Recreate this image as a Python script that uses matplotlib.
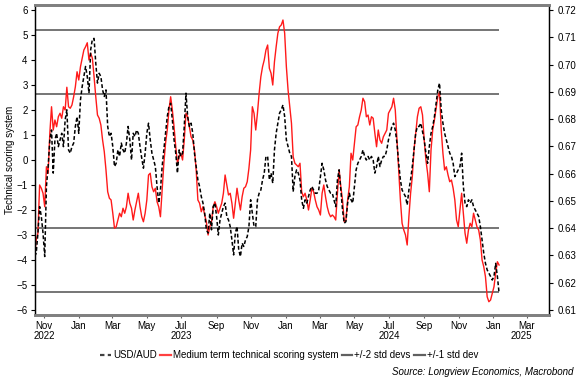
import matplotlib
matplotlib.use('Agg')
import matplotlib.pyplot as plt
import matplotlib.dates as mdates
import matplotlib.transforms as mtransforms
from matplotlib.lines import Line2D
import pandas as pd

plt.rcParams['font.family'] = ['Liberation Sans', 'DejaVu Sans']
plt.rcParams['font.size'] = 7

###############################################
# data (one value every 3 days from mid Oct 2022)
start = '2022-10-15'

score = [
    -3.87, -3.2, -2.93, -1.0, -1.13, -1.33, -1.87, -0.27, -0.53, 1.07, 2.13, 1.2, 1.6, 1.33, 1.73, 1.87, 1.67,
    2.13, 2.0, 2.91, 2.13, 2.07, 2.2, 2.53, 2.93, 3.53, 3.2, 3.73, 4.07, 4.4, 4.53, 4.69, 4.0, 4.27, 4.07,
    3.33, 2.53, 1.8, 1.67, 1.4, 0.8, 0.33, -0.4, -1.27, -1.53, -1.6, -2.13, -2.73, -2.67, -2.4, -2.13, -2.27,
    -1.93, -2.13, -1.87, -1.33, -1.73, -1.93, -2.4, -2.0, -1.67, -1.33, -1.87, -2.27, -2.47, -2.13, -1.6, -0.6,
    # 2023
    -0.53, -1.07, -1.27, -1.13, -1.67, -1.87, -2.27, -1.2, -0.13, 0.67, 1.2, 2.0, 2.53, 2.0, 1.33, 0.53, -0.13,
    0.13, 0.27, 0.0, 0.8, 1.87, 1.73, 1.33, 0.93, 0.8, 0.4, -0.4, -1.6, -1.73, -2.07, -1.87, -2.2, -2.47, -3.0,
    -2.67, -2.47, -1.87, -1.67, -1.87, -2.13, -1.93, -1.73, -1.33, -0.6, -1.0, -1.4, -1.33, -1.73, -2.33, -1.73,
    -1.13, -1.6, -2.0, -1.47, -1.13, -1.07, -0.87, -0.33, 0.4, 2.13, 1.87, 1.2, 1.87, 2.67, 3.33, 3.73, 4.0,
    4.4, 4.6, 3.67, 3.47, 3.0, 3.93, 4.53, 5.07, 5.33, 5.4, 5.6, 5.07, 3.73, 2.8, 2.13, 1.47, 0.13, -0.13,
    # 2024
    -0.2, -0.27, -0.13, -1.27, -1.47, -1.33, -1.6, -2.0, -1.6, -1.13, -1.27, -1.6, -1.87, -2.0, -2.2, -1.33,
    -1.0, -1.47, -1.87, -2.13, -2.27, -2.2, -2.27, -2.4, -1.33, -0.4, -1.07, -1.6, -2.47, -2.4, -1.6, -1.07,
    0.27, 0.0, 0.67, 1.33, 1.4, 1.73, 2.0, 2.47, 2.33, 1.73, 1.8, 1.4, 1.73, 1.67, 1.07, 0.53, 1.2, 0.8,
    0.67, 0.93, 1.07, 1.2, 1.87, 2.0, 2.13, 2.47, 2.0, 0.8, -0.4, -1.6, -2.53, -2.8, -3.0, -3.4, -2.27, -1.33,
    -0.67, 0.4, 1.07, 1.73, 2.07, 2.13, 1.8, 0.8, 0.0, -0.53, -1.27, 0.4, 1.2, 1.6, 2.07, 2.53, 2.73, 1.2,
    0.27, -0.4, -0.27, -0.6, -0.87, -0.8, -1.13, -1.6, -2.4, -2.67, -2.0, -1.33, -2.13, -2.93, -3.33, -2.8,
    -2.53, -2.67, -2.13, -2.4, -2.67, -2.8, -3.2, -4.0, -4.27, -4.67, -5.47, -5.67, -5.6, -5.33, -5.07, -4.53,
    -4.07, -4.2,
]

usdaud = [
    0.6296, 0.6308, 0.6382, 0.6479, 0.6443, 0.6382, 0.6296, 0.6553, 0.6626, 0.6724, 0.6760, 0.6602, 0.6724,
    0.6748, 0.6699, 0.6724, 0.6748, 0.6699, 0.6797, 0.6834, 0.6687, 0.6675, 0.6699, 0.6712, 0.6773, 0.6809,
    0.6748, 0.6870, 0.6919, 0.6956, 0.6993, 0.6956, 0.6895, 0.7054, 0.7093, 0.7096, 0.7005, 0.6932, 0.6968,
    0.6956, 0.6907, 0.6883, 0.6907, 0.6773, 0.6736, 0.6748, 0.6699, 0.6626, 0.6638, 0.6687, 0.6663, 0.6712,
    0.6687, 0.6675, 0.6712, 0.6773, 0.6724, 0.6650, 0.6748, 0.6736, 0.6760, 0.6748, 0.6699, 0.6657, 0.6620,
    0.6675, 0.6748, 0.6785,
    0.6724, 0.6675, 0.6650, 0.6626, 0.6553, 0.6492, 0.6540, 0.6626, 0.6687, 0.6748, 0.6809, 0.6846, 0.6858,
    0.6797, 0.6724, 0.6675, 0.6602, 0.6687, 0.6663, 0.6675, 0.6773, 0.6895, 0.6809, 0.6773, 0.6785, 0.6748,
    0.6675, 0.6626, 0.6577, 0.6553, 0.6516, 0.6492, 0.6455, 0.6394, 0.6382, 0.6455, 0.6394, 0.6479, 0.6492,
    0.6443, 0.6375, 0.6430, 0.6455, 0.6479, 0.6492, 0.6443, 0.6430, 0.6406, 0.6357, 0.6302, 0.6382, 0.6406,
    0.6321, 0.6296, 0.6345, 0.6333, 0.6357, 0.6369, 0.6406, 0.6504, 0.6455, 0.6406, 0.6406, 0.6504, 0.6528,
    0.6540, 0.6577, 0.6602,
    0.6663, 0.6663, 0.6577, 0.6602, 0.6565, 0.6687, 0.6748, 0.6785, 0.6822, 0.6834, 0.6852, 0.6809, 0.6724,
    0.6699, 0.6675, 0.6663, 0.6534, 0.6589, 0.6614, 0.6602, 0.6577, 0.6504, 0.6473, 0.6504, 0.6492, 0.6516,
    0.6540, 0.6553, 0.6540, 0.6528, 0.6528, 0.6540, 0.6589, 0.6638, 0.6614, 0.6577, 0.6553, 0.6540, 0.6528,
    0.6528, 0.6504, 0.6479, 0.6577, 0.6614, 0.6540, 0.6467, 0.6418, 0.6424, 0.6492, 0.6528, 0.6504, 0.6492,
    0.6553, 0.6614, 0.6638, 0.6650, 0.6663, 0.6687, 0.6663, 0.6650, 0.6663, 0.6650, 0.6663, 0.6650, 0.6602,
    0.6626, 0.6663, 0.6626,
    0.6650, 0.6663, 0.6663, 0.6687, 0.6724, 0.6748, 0.6773, 0.6785, 0.6760, 0.6712, 0.6638, 0.6577, 0.6540,
    0.6528, 0.6516, 0.6485, 0.6540, 0.6577, 0.6626, 0.6687, 0.6748, 0.6773, 0.6773, 0.6785, 0.6754, 0.6724,
    0.6675, 0.6638, 0.6699, 0.6748, 0.6773, 0.6809, 0.6858, 0.6907, 0.6932, 0.6834, 0.6785, 0.6748, 0.6724,
    0.6699, 0.6675, 0.6663, 0.6638, 0.6589, 0.6602, 0.6614, 0.6626, 0.6675, 0.6553, 0.6492, 0.6479, 0.6504,
    0.6492, 0.6504, 0.6479, 0.6467, 0.6455, 0.6443, 0.6406, 0.6357, 0.6308, 0.6271, 0.6247, 0.6235, 0.6223,
    0.6210, 0.6223, 0.6271, 0.6223, 0.6162,
]

std2_levels = [5.2, -5.28]
std1_levels = [2.63, -2.71]

score_ticks = list(range(-6, 7))
usd_ticks = [0.61, 0.62, 0.63, 0.64, 0.65, 0.66, 0.67, 0.68, 0.69, 0.70, 0.71, 0.72]
year_labels = [('2022-11-01', '2022'), ('2023-07-01', '2023'), ('2024-07-01', '2024'), ('2025-02-20', '2025')]
###############################################

score_dates = pd.date_range(start, periods=len(score), freq='3D')
usd_dates = pd.date_range(start, periods=len(usdaud), freq='3D')

fig = plt.figure(figsize=(5.82, 3.80), dpi=100)
ax = fig.add_axes([0.0593, 0.1711, 0.8840, 0.8157])
ax2 = ax.twinx()

# std dev bands
line_col = '#505050'
ax.hlines(std2_levels, score_dates[0], score_dates[-1], color=line_col, lw=1.1, zorder=1)
ax.hlines(std1_levels, score_dates[0], score_dates[-1], color=line_col, lw=1.1, zorder=1)

ax.plot(score_dates, score, color='#ff1a1a', lw=1.0, zorder=2)
ax2.plot(usd_dates, usdaud, color='black', lw=1.1, ls=(0, (2.5, 1.5)))

# axes scaling: left +/-6.2, right mapped so 6 <-> 0.72 and -6 <-> 0.61
ax.set_ylim(-6.2, 6.2)
ax2.set_ylim(0.665 - 6.2 * 0.11 / 12, 0.665 + 6.2 * 0.11 / 12)
ax.set_xlim(pd.Timestamp('2022-10-15'), pd.Timestamp('2025-04-09'))

ax.set_yticks(score_ticks)
ax2.set_yticks(usd_ticks)
ax2.set_yticklabels(['%.2f' % t for t in usd_ticks])

ax.xaxis.set_major_locator(mdates.MonthLocator(bymonth=[1, 3, 5, 7, 9, 11]))
ax.xaxis.set_major_formatter(mdates.DateFormatter('%b'))

ax.tick_params(axis='y', direction='out', length=3, pad=2, labelsize=7)
ax2.tick_params(axis='y', direction='out', length=3, pad=3, labelsize=7)
ax.tick_params(axis='x', direction='out', length=2, pad=2.5, labelsize=7, color='#606060')

trans = mtransforms.blended_transform_factory(ax.transData, ax.transAxes)
for d, yr in year_labels:
    ax.text(pd.Timestamp(d), -0.068, yr, transform=trans, ha='center', va='center', fontsize=7)

for a in (ax, ax2):
    a.spines['top'].set_color('#808080')
    a.spines['top'].set_linewidth(2)
    a.spines['bottom'].set_color('#808080')
    a.spines['bottom'].set_linewidth(2)
    a.spines['left'].set_linewidth(0.9)
    a.spines['right'].set_linewidth(0.9)

fig.text(0.017, 0.579, 'Technical scoring system', rotation=90, ha='center', va='center', fontsize=7)

handles = [
    Line2D([], [], color='#404040', lw=1.6, ls=(0, (2, 1.5))),
    Line2D([], [], color='#ff4040', lw=1.6),
    Line2D([], [], color='#606060', lw=1.6),
    Line2D([], [], color='#606060', lw=1.6),
]
labels = ['USD/AUD', 'Medium term technical scoring system', '+/-2 std devs', '+/-1 std dev']
fig.legend(handles, labels, loc='center', bbox_to_anchor=(0.497, 0.066), ncol=4, frameon=False,
           fontsize=7, handlelength=1.1, handletextpad=0.2, columnspacing=0.35)

fig.text(0.985, 0.021, 'Source: Longview Economics, Macrobond', ha='right', va='center',
         style='italic', fontsize=7)

plt.savefig('out.png', dpi=100)
